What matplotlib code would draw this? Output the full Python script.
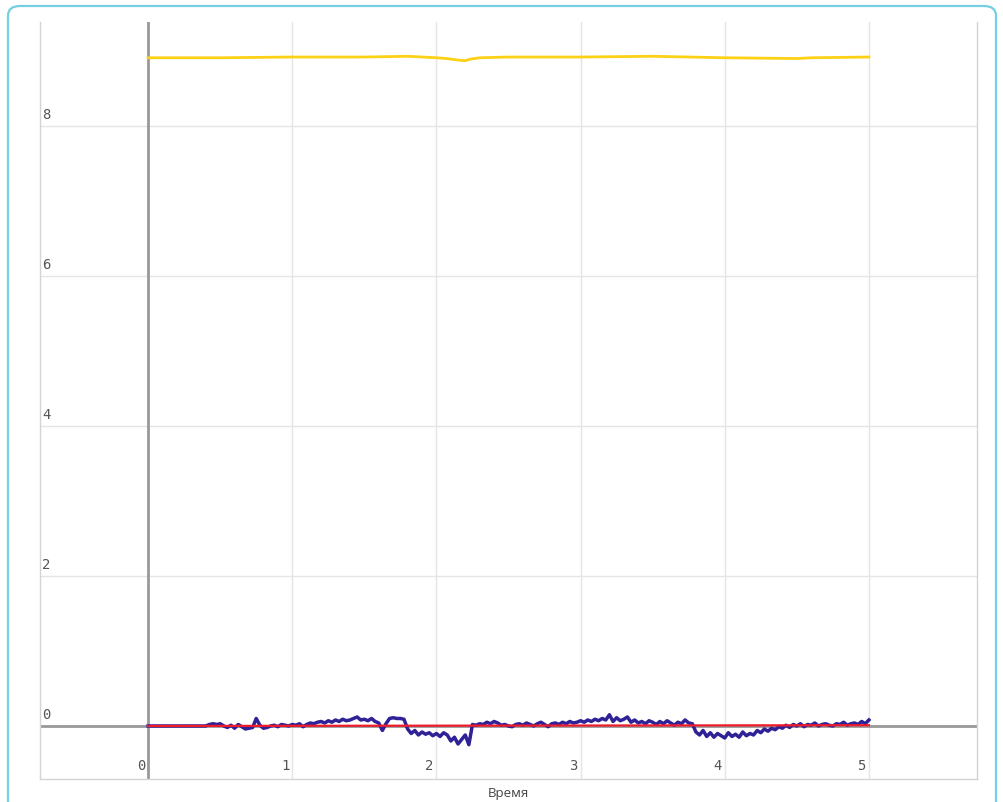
import numpy as np
import matplotlib
matplotlib.use('Agg')
import matplotlib.pyplot as plt
from matplotlib.patches import FancyBboxPatch
from matplotlib.transforms import blended_transform_factory, ScaledTranslation

# yellow signal (slow, ~8.9)
yellow_t = [0.0, 0.5, 1.0, 1.5, 1.8, 2.0, 2.07, 2.15, 2.2, 2.23, 2.3, 2.5, 3.0, 3.5, 4.0, 4.5, 4.6, 5.0]
yellow_v = [8.91, 8.91, 8.92, 8.92, 8.93, 8.91, 8.90, 8.88, 8.87, 8.89, 8.91, 8.92, 8.92, 8.93, 8.91, 8.90, 8.91, 8.92]

# red reference line
red_t = [0.0, 5.0]
red_v = [0.0, 0.01]

# blue noisy signal, sampled every 0.025 s from 0.4 to 5.0
blue_t = np.round(np.linspace(0.4, 5.0, 185), 3)
blue_v = [
    # 0.400 - 0.975
    0.00, 0.02, 0.03, 0.02, 0.03, 0.00, -0.02, 0.01, -0.03, 0.02, -0.01, -0.04,
    -0.03, -0.02, 0.10, 0.01, -0.03, -0.02, 0.00, 0.01, -0.01, 0.02, 0.01, 0.00,
    # 1.000 - 1.475
    0.02, 0.01, 0.03, -0.01, 0.02, 0.04, 0.03, 0.05, 0.06, 0.04,
    0.07, 0.05, 0.08, 0.06, 0.09, 0.07, 0.08, 0.10, 0.12, 0.08,
    # 1.500 - 1.975
    0.09, 0.07, 0.10, 0.06, 0.04, -0.06, 0.03, 0.10, 0.11, 0.10,
    0.10, 0.09, -0.04, -0.10, -0.06, -0.12, -0.08, -0.11, -0.09, -0.13,
    # 2.000 - 2.475
    -0.10, -0.14, -0.09, -0.12, -0.20, -0.15, -0.24, -0.18, -0.12, -0.25,
    0.02, 0.01, 0.03, 0.02, 0.05, 0.03, 0.06, 0.04, 0.01, 0.02,
    # 2.500 - 2.975
    0.00, -0.01, 0.02, 0.03, 0.01, 0.04, 0.02, 0.00, 0.03, 0.05,
    0.02, -0.01, 0.03, 0.04, 0.02, 0.05, 0.03, 0.06, 0.04, 0.05,
    # 3.000 - 3.475
    0.07, 0.05, 0.08, 0.06, 0.09, 0.07, 0.10, 0.08, 0.15, 0.06,
    0.11, 0.07, 0.09, 0.12, 0.05, 0.08, 0.04, 0.06, 0.03, 0.07,
    # 3.500 - 3.975
    0.05, 0.02, 0.06, 0.03, 0.07, 0.04, 0.01, 0.05, 0.03, 0.08,
    0.04, 0.03, -0.08, -0.12, -0.06, -0.14, -0.09, -0.15, -0.10, -0.13,
    # 4.000 - 4.475
    -0.16, -0.09, -0.14, -0.11, -0.15, -0.08, -0.13, -0.10, -0.12, -0.06,
    -0.09, -0.04, -0.07, -0.03, -0.05, -0.01, -0.03, 0.01, -0.02, 0.02,
    # 4.500 - 5.000
    0.00, 0.03, -0.01, 0.02, 0.01, 0.04, 0.00, 0.02, 0.03, 0.01, 0.00,
    0.03, 0.02, 0.05, 0.01, 0.03, 0.04, 0.02, 0.06, 0.03, 0.08,
]
blue_t = np.concatenate([[0.0], blue_t])
blue_v = [0.0] + blue_v

x_ticks = [0, 1, 2, 3, 4, 5]
y_ticks = [0, 2, 4, 6, 8]
x_label = 'Время'

W, H = 1004, 802
fig = plt.figure(figsize=(W / 100, H / 100), dpi=100)
fig.patch.set_facecolor('white')

# rounded frame around the chart (bottom edge runs off the image)
frame = FancyBboxPatch((8 / W, -40 / H), (996 - 8) / W, (H - 6 + 40) / H,
                       boxstyle='round,pad=0,rounding_size=0.012',
                       transform=fig.transFigure, fill=False,
                       edgecolor='#74cfe3', lw=1.6, clip_on=False)
fig.patches.append(frame)

ax = fig.add_axes([40 / W, (H - 779) / H, 937 / W, 757 / H])
ax.set_xlim(-0.75, 5.75)
ax.set_ylim(-0.707, 9.387)

for s in ['left', 'right', 'bottom']:
    ax.spines[s].set_color('#d4d4d4')
    ax.spines[s].set_linewidth(1.0)
ax.spines['top'].set_visible(False)

ax.set_xticks(x_ticks)
ax.set_yticks(y_ticks)
ax.tick_params(length=0, labelbottom=False, labelleft=False)
ax.set_axisbelow(True)
ax.grid(True, color='#e5e5e5', lw=1.0)
ax.axhline(0, color='#999999', lw=2.0, zorder=2)
ax.axvline(0, color='#999999', lw=2.0, zorder=2)

ax.plot(yellow_t, yellow_v, color='#fcd116', lw=2.0, zorder=3)
ax.plot(blue_t, blue_v, color='#2f2196', lw=2.5, zorder=3)
ax.plot(red_t, red_v, color='#ee1b2b', lw=1.6, zorder=4)

# tick labels drawn inside the plot area
tx = blended_transform_factory(ax.transData, ax.transAxes)
for v in x_ticks:
    ax.text(v, 0, str(v), transform=tx + ScaledTranslation(-3 / 100, 6 / 100, fig.dpi_scale_trans),
            ha='right', va='bottom', fontsize=10, color='#555555', family='DejaVu Sans Mono')
ty = blended_transform_factory(ax.transAxes, ax.transData)
for v in y_ticks:
    ax.text(0, v, str(v), transform=ty + ScaledTranslation(2 / 100, 4 / 100, fig.dpi_scale_trans),
            ha='left', va='bottom', fontsize=10, color='#555555', family='DejaVu Sans Mono')

fig.text(508 / W, 1 - 793 / H, x_label, ha='center', va='center', fontsize=9.5,
         color='#444444', family='Open Sans')

fig.savefig('out.png', dpi=100)
